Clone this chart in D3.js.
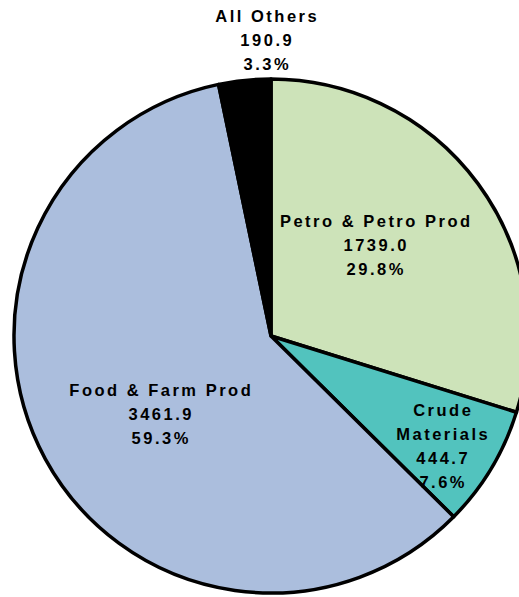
<!DOCTYPE html>
<html>
<head>
<meta charset="utf-8">
<script src="https://cdn.jsdelivr.net/npm/d3@7"></script>
<style>
  html, body { margin: 0; padding: 0; background: #fff; }
  svg { display: block; }
  text { font-family: "Liberation Sans", Arial, sans-serif; font-weight: bold; font-size: 16.5px; fill: #000; letter-spacing: 2.5px; }
</style>
</head>
<body>
<svg id="chart" width="519" height="597"></svg>
<script>
// Export categories, in clockwise order from 12 o'clock
const categories = ["Petro & Petro Prod", "Crude Materials", "Food & Farm Prod", "All Others"];
const values = [1739.0, 444.7, 3461.9, 190.9];
const percents = ["29.8%", "7.6%", "59.3%", "3.3%"];
const colors = ["#cde3b9", "#52c3be", "#abbedd", "#000000"];

// Label text lines per slice (name may wrap)
const labelLines = [
  ["Petro & Petro Prod"],
  ["Crude", "Materials"],
  ["Food & Farm Prod"],
  ["All Others"]
];
// Label anchor offsets from the pie centre (first baseline)
const labelOffsets = [[104, -109], [171, 80], [-111, 60], [-5, -314]];

const cx = 271, cy = 336, radius = 257;
const svg = d3.select("#chart");
const g = svg.append("g").attr("transform", `translate(${cx},${cy})`);

const pie = d3.pie().sort(null).value(d => d.value);
const arc = d3.arc().innerRadius(0).outerRadius(radius);
const data = categories.map((c, i) => ({ name: c, value: values[i], pct: percents[i], color: colors[i], i }));

g.selectAll("path.slice")
  .data(pie(data))
  .join("path")
  .attr("class", "slice")
  .attr("d", arc)
  .attr("fill", d => d.data.color)
  .attr("stroke", "#000")
  .attr("stroke-width", 3.5)
  .attr("stroke-linejoin", "round");

const lineH = 24;
data.forEach((d, i) => {
  const lines = labelLines[i].concat([d.value.toFixed(1), d.pct]);
  const [ox, oy] = labelOffsets[i];
  const t = g.append("text").attr("text-anchor", "middle");
  lines.forEach((s, k) => {
    t.append("tspan").attr("x", ox + 1.25).attr("y", oy + k * lineH).text(s);
  });
});
</script>
</body>
</html>
